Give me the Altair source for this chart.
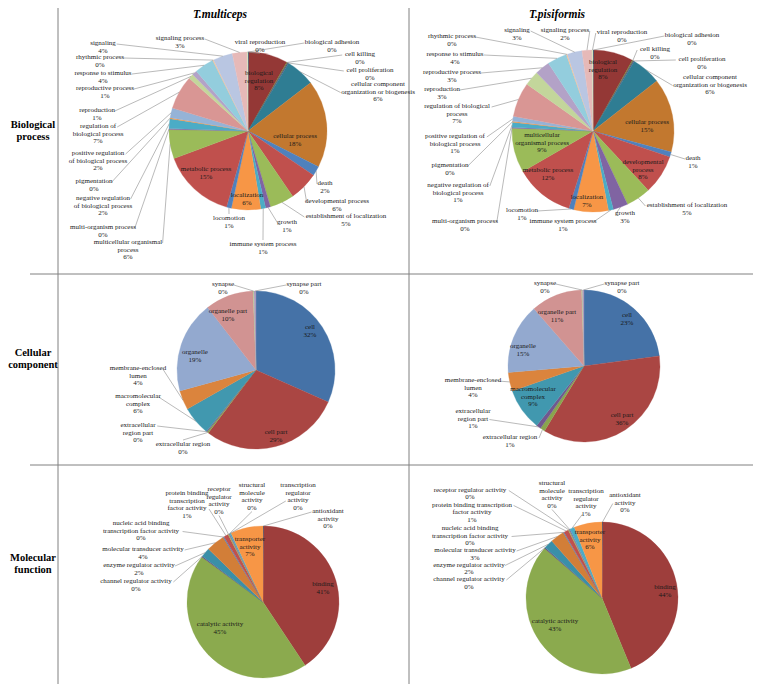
import math
import altair as alt
import pandas as pd

# ---------------- data (percent of annotated genes) ----------------
BP_CATS = ["biological adhesion", "biological regulation", "cell killing", "cell proliferation",
           "cellular component organization or biogenesis", "cellular process", "death",
           "developmental process", "establishment of localization", "growth",
           "immune system process", "localization", "locomotion", "metabolic process",
           "multicellular organismal process", "multi-organism process",
           "negative regulation of biological process", "pigmentation",
           "positive regulation of biological process", "regulation of biological process",
           "reproduction", "reproductive process", "response to stimulus", "rhythmic process",
           "signaling", "signaling process", "viral reproduction"]
BP_MULT = [0.2, 8, 0.2, 0.2, 6, 18, 2, 6, 5, 1, 1, 6, 1, 15, 6, 0.2, 2, 0.2, 2, 7, 1, 1, 4, 0.2, 4, 3, 0.2]
BP_PISI = [0.2, 8, 0.2, 0.2, 6, 15, 1, 8, 5, 3, 1, 7, 1, 12, 9, 0.2, 1, 0.2, 1, 7, 3, 3, 4, 0.2, 3, 2, 0.2]

CC_CATS = ["cell", "cell part", "extracellular region", "extracellular region part",
           "macromolecular complex", "membrane-enclosed lumen", "organelle", "organelle part",
           "synapse", "synapse part"]
CC_MULT = [32, 29, 0.3, 0.2, 6, 4, 19, 10, 0.2, 0.4]
CC_PISI = [23, 36, 1, 1, 9, 4, 15, 11, 0.2, 0.3]

MF_CATS = ["antioxidant activity", "binding", "catalytic activity", "channel regulator activity",
           "enzyme regulator activity", "molecular transducer activity",
           "nucleic acid binding transcription factor activity",
           "protein binding transcription factor activity", "receptor regulator activity",
           "structural molecule activity", "transcription regulator activity",
           "transporter activity"]
MF_MULT = [0.2, 41, 45, 0.2, 2, 4, 0.2, 1, 0.2, 0.2, 0.3, 7]
MF_PISI = [0.2, 44, 43, 0.2, 2, 3, 0.2, 1, 0.2, 0.2, 1, 6]

SPECIES = ["T.multiceps", "T.pisiformis"]
ONTOLOGIES = ["Biological\nprocess", "Cellular\ncomponent", "Molecular\nfunction"]

# ---------------- styles ----------------
BP_COLORS = ["#2C4D75", "#943836", "#6F8A36", "#5C4776", "#2F7D93", "#C2782F",
             "#4F81BD", "#C0504D", "#9BBB59", "#8064A2", "#4BACC6", "#F79646",
             "#4F81BD", "#C0504D", "#9BBB59", "#8064A2", "#4BACC6", "#F79646",
             "#95B3D7", "#D99694", "#C3D69B", "#B3A2C7", "#93CDDD", "#FAC090",
             "#B9C6E2", "#E6B9B8", "#D7E4BD"]
CC_COLORS = ["#4572A7", "#AA4643", "#89A54E", "#71588F", "#4198AF", "#DB843D",
             "#93A9CF", "#D19392", "#B9CD96", "#A99BBD"]
MF_COLORS = ["#2C4D75", "#9E3E3C", "#8BAA4E", "#5F4B7A", "#3A8FA8", "#D27E38",
             "#4F81BD", "#C0504D", "#9BBB59", "#8064A2", "#4BACC6", "#F79646"]

FONT = "Liberation Serif"
LABEL_SIZE = 7.0
LINE_H = 7.5
CHAR_W = 2.8

# ---------------- layout (reference pixel coordinates) ----------------
PIES = {  # id: (categories, values, colors, cx, cy, r)
    "BP_M": (BP_CATS, BP_MULT, BP_COLORS, 248, 131, 79),
    "BP_P": (BP_CATS, BP_PISI, BP_COLORS, 593, 131, 81),
    "CC_M": (CC_CATS, CC_MULT, CC_COLORS, 256, 370, 79),
    "CC_P": (CC_CATS, CC_PISI, CC_COLORS, 584, 366, 76),
    "MF_M": (MF_CATS, MF_MULT, MF_COLORS, 263, 602, 76),
    "MF_P": (MF_CATS, MF_PISI, MF_COLORS, 602, 598, 76),
}

# (category, wrapped name, label x, first-line y, leader attach mode)
LABELS = {
    "BP_M": [
        ("biological adhesion", "biological adhesion", 332, 42, "R1"),
        ("biological regulation", "biological\nregulation", 259, 73, "in"),
        ("cell killing", "cell killing", 360, 54, "R1"),
        ("cell proliferation", "cell proliferation", 370, 70, "R1"),
        ("cellular component organization or biogenesis", "cellular component\norganization or biogenesis", 378, 84, "R2"),
        ("cellular process", "cellular process", 295, 136, "in"),
        ("death", "death", 325, 183, "R1"),
        ("developmental process", "developmental process", 337, 201, "R1"),
        ("establishment of localization", "establishment of localization", 346, 216, "R1"),
        ("growth", "growth", 287, 222, "R1"),
        ("immune system process", "immune system process", 263, 244, "T"),
        ("localization", "localization", 247, 195, "in"),
        ("locomotion", "locomotion", 229, 218, "T"),
        ("metabolic process", "metabolic process", 206, 169, "in"),
        ("multicellular organismal process", "multicellular organismal\nprocess", 128, 242, "L1"),
        ("multi-organism process", "multi-organism process", 103, 227, "L1"),
        ("negative regulation of biological process", "negative regulation\nof biological process", 103, 198, "L1"),
        ("pigmentation", "pigmentation", 94, 181, "L1"),
        ("positive regulation of biological process", "positive regulation\nof biological process", 98, 153, "L1"),
        ("regulation of biological process", "regulation of\nbiological process", 98, 126, "L1"),
        ("reproduction", "reproduction", 97, 110, "L1"),
        ("reproductive process", "reproductive process", 105, 88, "L1"),
        ("response to stimulus", "response to stimulus", 103, 73, "L1"),
        ("rhythmic process", "rhythmic process", 100, 57, "L1"),
        ("signaling", "signaling", 103, 43, "L1"),
        ("signaling process", "signaling process", 180, 38, "L1"),
        ("viral reproduction", "viral reproduction", 260, 42, "B"),
    ],
    "BP_P": [
        ("biological adhesion", "biological adhesion", 692, 35, "R1"),
        ("biological regulation", "biological\nregulation", 603, 62, "in"),
        ("cell killing", "cell killing", 655, 49, "R1"),
        ("cell proliferation", "cell proliferation", 702, 59, "R1"),
        ("cellular component organization or biogenesis", "cellular component\norganization or biogenesis", 710, 77, "R2"),
        ("cellular process", "cellular process", 647, 122, "in"),
        ("death", "death", 693, 158, "R1"),
        ("developmental process", "developmental\nprocess", 643, 162, "in"),
        ("establishment of localization", "establishment of localization", 687, 205, "R1"),
        ("growth", "growth", 625, 213, "R1"),
        ("immune system process", "immune system process", 563, 221, "L1"),
        ("localization", "localization", 587, 197, "in"),
        ("locomotion", "locomotion", 522, 210, "L1"),
        ("metabolic process", "metabolic process", 548, 170, "in"),
        ("multicellular organismal process", "multicellular\norganismal process", 542, 135, "in"),
        ("multi-organism process", "multi-organism process", 465, 221, "L1"),
        ("negative regulation of biological process", "negative regulation of\nbiological process", 458, 185, "L1"),
        ("pigmentation", "pigmentation", 450, 165, "L1"),
        ("positive regulation of biological process", "positive regulation of\nbiological process", 455, 136, "L1"),
        ("regulation of biological process", "regulation of biological\nprocess", 457, 106, "L1"),
        ("reproduction", "reproduction", 442, 89, "L1"),
        ("reproductive process", "reproductive process", 452, 72, "L1"),
        ("response to stimulus", "response to stimulus", 455, 54, "L1"),
        ("rhythmic process", "rhythmic process", 452, 36, "L1"),
        ("signaling", "signaling", 517, 30, "L1"),
        ("signaling process", "signaling process", 565, 30, "L1"),
        ("viral reproduction", "viral reproduction", 622, 32, "R1"),
    ],
    "CC_M": [
        ("cell", "cell", 310, 327, "in"),
        ("cell part", "cell part", 276, 432, "in"),
        ("extracellular region", "extracellular region", 183, 444, "T"),
        ("extracellular region part", "extracellular\nregion part", 138, 425, "L1"),
        ("macromolecular complex", "macromolecular\ncomplex", 138, 396, "L1"),
        ("membrane-enclosed lumen", "membrane-enclosed\nlumen", 138, 368, "L1"),
        ("organelle", "organelle", 195, 352, "in"),
        ("organelle part", "organelle part", 228, 311, "in"),
        ("synapse", "synapse", 223, 284, "L1"),
        ("synapse part", "synapse part", 304, 284, "R1"),
    ],
    "CC_P": [
        ("cell", "cell", 627, 315, "in"),
        ("cell part", "cell part", 622, 415, "in"),
        ("extracellular region", "extracellular region", 510, 437, "L1"),
        ("extracellular region part", "extracellular\nregion part", 473, 411, "L2"),
        ("macromolecular complex", "macromolecular\ncomplex", 533, 389, "in"),
        ("membrane-enclosed lumen", "membrane-enclosed\nlumen", 473, 380, "L1"),
        ("organelle", "organelle", 523, 346, "in"),
        ("organelle part", "organelle part", 557, 312, "in"),
        ("synapse", "synapse", 545, 283, "L1"),
        ("synapse part", "synapse part", 622, 283, "R1"),
    ],
    "MF_M": [
        ("antioxidant activity", "antioxidant\nactivity", 328, 511, "R1"),
        ("binding", "binding", 323, 584, "in"),
        ("catalytic activity", "catalytic activity", 220, 624, "in"),
        ("channel regulator activity", "channel regulator activity", 136, 581, "L1"),
        ("enzyme regulator activity", "enzyme regulator activity", 139, 565, "L1"),
        ("molecular transducer activity", "molecular transducer activity", 143, 549, "L1"),
        ("nucleic acid binding transcription factor activity", "nucleic acid binding\ntranscription factor activity", 141, 523, "L2"),
        ("protein binding transcription factor activity", "protein binding\ntranscription\nfactor activity", 187, 493, "L3"),
        ("receptor regulator activity", "receptor\nregulator\nactivity", 219, 489, "B"),
        ("structural molecule activity", "structural\nmolecule\nactivity", 252, 485, "B"),
        ("transcription regulator activity", "transcription\nregulator\nactivity", 298, 485, "R3"),
        ("transporter activity", "transporter\nactivity", 250, 539, "in"),
    ],
    "MF_P": [
        ("antioxidant activity", "antioxidant\nactivity", 625, 495, "R2"),
        ("binding", "binding", 665, 587, "in"),
        ("catalytic activity", "catalytic activity", 555, 621, "in"),
        ("channel regulator activity", "channel regulator activity", 469, 579, "L1"),
        ("enzyme regulator activity", "enzyme regulator activity", 469, 564.5, "L1"),
        ("molecular transducer activity", "molecular transducer activity", 475, 550, "L1"),
        ("nucleic acid binding transcription factor activity", "nucleic acid binding\ntranscription factor activity", 470, 528, "L2"),
        ("protein binding transcription factor activity", "protein binding transcription\nfactor activity", 472, 504.5, "L1"),
        ("receptor regulator activity", "receptor regulator activity", 470, 489.5, "L1"),
        ("structural molecule activity", "structural\nmolecule\nactivity", 552, 483, "B"),
        ("transcription regulator activity", "transcription\nregulator\nactivity", 586, 491, "R4"),
        ("transporter activity", "transporter\nactivity", 590, 532, "in"),
    ],
}

TITLE_POS = [(220, 14.5), (557, 14.5)]
ROW_POS = [(33, 125), (33, 353), (33, 558)]
GRID = [  # x, y, x2, y2
    (58, 4, 58, 684), (409, 0, 409, 684), (30, 274, 753, 274), (30, 465, 753, 465)]

# plot area starts at page (16, 16); an 8px chart padding keeps the edges visible
X0, Y0 = 16, 16
W, H = 737, 668


def attach_point(name, lx, ly, mode):
    lines = name.split("\n") + ["0%"]
    if mode == "in":
        return None, None
    kind = mode[0]
    n = int(mode[1:]) if len(mode) > 1 else 1
    line = lines[min(n, len(lines)) - 1]
    half = len(line) * CHAR_W / 2
    if kind == "L":
        return lx + half + 1, ly + (n - 1) * LINE_H + 1
    if kind == "R":
        return lx - half - 1, ly + (n - 1) * LINE_H + 1
    if kind == "T":
        return lx, ly - 4
    return lx, ly + (len(lines) - 1) * LINE_H + 4


rows = []
for pid, (cats, vals, cols, cx, cy, r) in PIES.items():
    lay = {c: (nm, lx, ly, md) for c, nm, lx, ly, md in LABELS[pid]}
    for i, (c, v, col) in enumerate(zip(cats, vals, cols)):
        nm, lx, ly, md = lay[c]
        ex, ey = attach_point(nm, lx, ly, md)
        rows.append(dict(pie=pid, order=i, cat=c, value=v, color=col, cx=cx, cy=cy, r=r,
                         name=nm, lx=lx, ly=ly, mode=md, ex=ex, ey=ey))
df = pd.DataFrame(rows)

XS = alt.Scale(domain=[X0, X0 + W], nice=False, zero=False)
YS = alt.Scale(domain=[Y0, Y0 + H], nice=False, zero=False, reverse=True)

base = (alt.Chart(df)
        .transform_joinaggregate(total="sum(value)", groupby=["pie"])
        .transform_window(cum="sum(value)", sort=[alt.SortField("order")],
                          groupby=["pie"], frame=[None, 0])
        .transform_calculate(t0="(datum.cum - datum.value) / datum.total",
                             t1="datum.cum / datum.total")
        .transform_calculate(am="(datum.t0 + datum.t1) * PI")
        .transform_calculate(sx="datum.cx + datum.r * sin(datum.am)",
                             sy="datum.cy - datum.r * cos(datum.am)",
                             label="datum.name + '\\n' + format(datum.value, '.0f') + '%'"))

arcs = base.mark_arc(strokeWidth=0.3).encode(
    x=alt.X("cx:Q", scale=XS, axis=None),
    y=alt.Y("cy:Q", scale=YS, axis=None),
    theta=alt.Theta("t0:Q", scale=alt.Scale(domain=[0, 1], range=[0, 2 * math.pi]), stack=None),
    theta2="t1:Q",
    radius=alt.Radius("r:Q", scale=None),
    color=alt.Color("color:N", scale=None),
    stroke=alt.Stroke("color:N", scale=None),
)

leaders = base.transform_filter("datum.mode != 'in'").mark_rule(
    color="#8c8c8c", strokeWidth=0.6).encode(
    x=alt.X("sx:Q", scale=XS, axis=None), y=alt.Y("sy:Q", scale=YS, axis=None),
    x2="ex:Q", y2="ey:Q")

labels = base.mark_text(font=FONT, fontSize=LABEL_SIZE, lineHeight=LINE_H, lineBreak="\n",
                        align="center", baseline="middle", color="#1a1a1a").encode(
    x=alt.X("lx:Q", scale=XS, axis=None), y=alt.Y("ly:Q", scale=YS, axis=None),
    text="label:N")

grid_df = pd.DataFrame(GRID, columns=["x", "y", "x2", "y2"])
grid = alt.Chart(grid_df).mark_rule(color="#808080", strokeWidth=1).encode(
    x=alt.X("x:Q", scale=XS, axis=None), y=alt.Y("y:Q", scale=YS, axis=None),
    x2="x2:Q", y2="y2:Q")

title_df = pd.DataFrame({"t": SPECIES, "x": [p[0] for p in TITLE_POS], "y": [p[1] for p in TITLE_POS]})
titles = alt.Chart(title_df).mark_text(font=FONT, fontSize=11.5, fontWeight="bold",
                                       fontStyle="italic", color="black", baseline="middle").encode(
    x=alt.X("x:Q", scale=XS, axis=None), y=alt.Y("y:Q", scale=YS, axis=None), text="t:N")

row_df = pd.DataFrame({"t": ONTOLOGIES, "x": [p[0] for p in ROW_POS], "y": [p[1] for p in ROW_POS]})
rowlab = alt.Chart(row_df).mark_text(font=FONT, fontSize=10.5, fontWeight="bold", color="black",
                                     lineBreak="\n", lineHeight=12, baseline="middle").encode(
    x=alt.X("x:Q", scale=XS, axis=None), y=alt.Y("y:Q", scale=YS, axis=None), text="t:N")

chart = alt.layer(grid, arcs, leaders, labels, titles, rowlab).properties(
    width=W, height=H, autosize="none",
    padding={"left": 8, "top": 8, "right": 0, "bottom": 0}
).configure_view(stroke=None)

chart.save("out.html", embed_options={"renderer": "svg", "actions": False})
